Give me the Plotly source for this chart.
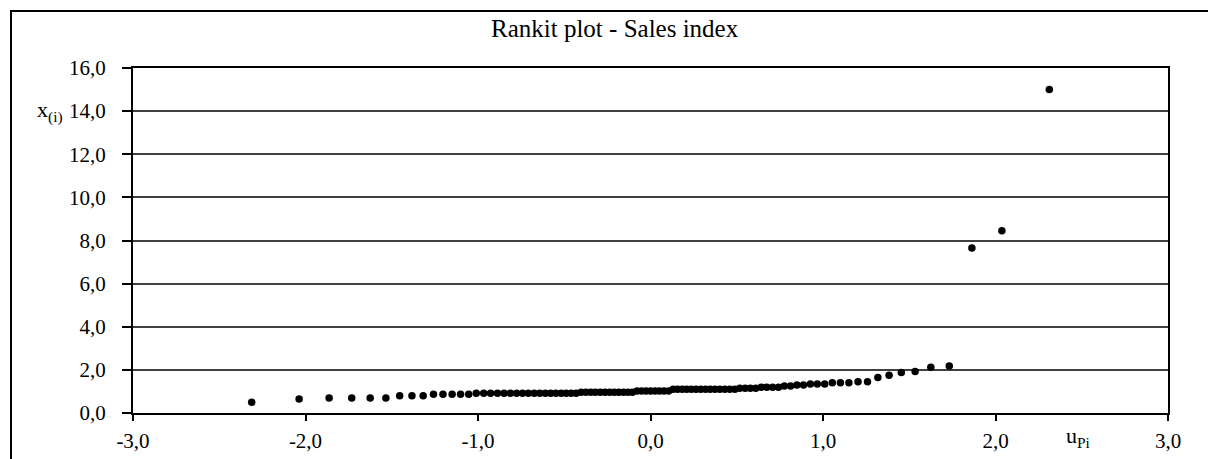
import plotly.graph_objects as go

# Rankits (expected normal scores, p = i/(n+1), n = 95)
rankit = [
    -2.312, -2.037, -1.863, -1.732, -1.625, -1.534, -1.454, -1.383, -1.318, -1.258,
    -1.203, -1.150, -1.101, -1.054, -1.010, -0.967, -0.927, -0.887, -0.849, -0.812,
    -0.776, -0.742, -0.708, -0.674, -0.642, -0.610, -0.579, -0.549, -0.518, -0.489,
    -0.460, -0.431, -0.402, -0.374, -0.346, -0.319, -0.291, -0.264, -0.237, -0.210,
    -0.184, -0.157, -0.131, -0.105, -0.078, -0.052, -0.026, 0.000, 0.026, 0.052,
    0.078, 0.105, 0.131, 0.157, 0.184, 0.210, 0.237, 0.264, 0.291, 0.319,
    0.346, 0.374, 0.402, 0.431, 0.460, 0.489, 0.518, 0.549, 0.579, 0.610,
    0.642, 0.674, 0.708, 0.742, 0.776, 0.812, 0.849, 0.887, 0.927, 0.967,
    1.010, 1.054, 1.101, 1.150, 1.203, 1.258, 1.318, 1.383, 1.454, 1.534,
    1.625, 1.732, 1.863, 2.037, 2.312,
]

# Ordered sales index values x(i)
sales_sorted = [
    0.50, 0.65, 0.70, 0.70, 0.70, 0.70, 0.80, 0.80, 0.80, 0.87,
    0.87, 0.87, 0.87, 0.87, 0.92, 0.92, 0.92, 0.92, 0.92, 0.92,
    0.92, 0.92, 0.92, 0.92, 0.92, 0.92, 0.92, 0.92, 0.92, 0.92,
    0.92, 0.92, 0.96, 0.96, 0.96, 0.96, 0.96, 0.96, 0.96, 0.96,
    0.96, 0.96, 0.96, 0.96, 1.02, 1.02, 1.02, 1.02, 1.02, 1.02,
    1.02, 1.02, 1.10, 1.10, 1.10, 1.10, 1.10, 1.10, 1.10, 1.10,
    1.10, 1.10, 1.10, 1.10, 1.10, 1.10, 1.15, 1.15, 1.15, 1.15,
    1.20, 1.20, 1.20, 1.20, 1.25, 1.25, 1.30, 1.30, 1.35, 1.35,
    1.35, 1.40, 1.40, 1.40, 1.45, 1.45, 1.65, 1.75, 1.88, 1.93,
    2.12, 2.18, 7.65, 8.45, 15.00,
]

x_ticks = [-3, -2, -1, 0, 1, 2, 3]
x_tick_text = ["-3,0", "-2,0", "-1,0", "0,0", "1,0", "2,0", "3,0"]
y_ticks = [0, 2, 4, 6, 8, 10, 12, 14, 16]
y_tick_text = ["0,0", "2,0", "4,0", "6,0", "8,0", "10,0", "12,0", "14,0", "16,0"]

title_text = "Rankit plot - Sales index"
y_label = "x<sub>(i)</sub>"
x_label = "u<sub>Pi</sub>"

FONT = "Times New Roman, Liberation Serif, Tinos, DejaVu Serif, serif"

fig = go.Figure()
fig.add_trace(go.Scatter(
    x=rankit, y=sales_sorted, mode="markers",
    marker=dict(color="black", size=7.5, line=dict(width=0)),
    showlegend=False, hoverinfo="x+y",
))

W, H = 1208, 459
L, R, T, B = 133, 40, 68, 46
pw, ph = W - L - R, H - T - B

def px(xs):
    return (xs - L) / pw

def py(ys):
    return (H - B - ys) / ph

fig.update_layout(
    width=W, height=H,
    margin=dict(l=L, r=R, t=T, b=B, pad=0),
    paper_bgcolor="white", plot_bgcolor="white",
    font=dict(family=FONT, size=21, color="black"),
    xaxis=dict(
        range=[-3, 3], tickvals=x_ticks, ticktext=x_tick_text,
        showgrid=False, zeroline=False, automargin=False,
        showline=True, linecolor="black", linewidth=2, mirror=True,
        ticks="outside", ticklen=6, tickwidth=2, tickcolor="black",
        tickfont=dict(family=FONT, size=21, color="black"),
        ticklabelstandoff=2,
    ),
    yaxis=dict(
        range=[0, 16], tickvals=y_ticks, ticktext=y_tick_text,
        showgrid=True, gridcolor="#404040", gridwidth=1.5, zeroline=False,
        automargin=False,
        showline=True, linecolor="black", linewidth=2, mirror=True,
        ticks="outside", ticklen=9, tickwidth=2, tickcolor="black",
        tickfont=dict(family=FONT, size=21, color="black"),
        ticklabelstandoff=12,
    ),
    shapes=[dict(
        type="rect", xref="paper", yref="paper",
        x0=px(11), x1=px(1240), y0=py(490), y1=py(11),
        line=dict(color="black", width=2), fillcolor="rgba(0,0,0,0)",
        layer="below",
    )],
    annotations=[
        dict(text=title_text, xref="paper", yref="paper", x=px(615), y=py(29),
             xanchor="center", yanchor="middle", showarrow=False,
             font=dict(family=FONT, size=25, color="black")),
        dict(text=y_label, xref="paper", yref="paper", x=px(50), y=py(112),
             xanchor="center", yanchor="middle", showarrow=False,
             font=dict(family=FONT, size=22, color="black")),
        dict(text=x_label, xref="paper", yref="paper", x=px(1078), y=py(437),
             xanchor="center", yanchor="middle", showarrow=False,
             font=dict(family=FONT, size=22, color="black")),
    ],
)

fig.write_html(
    "out.html",
    config={"displayModeBar": False},
    post_script="document.body.style.margin='0';document.body.style.overflow='hidden';",
)
